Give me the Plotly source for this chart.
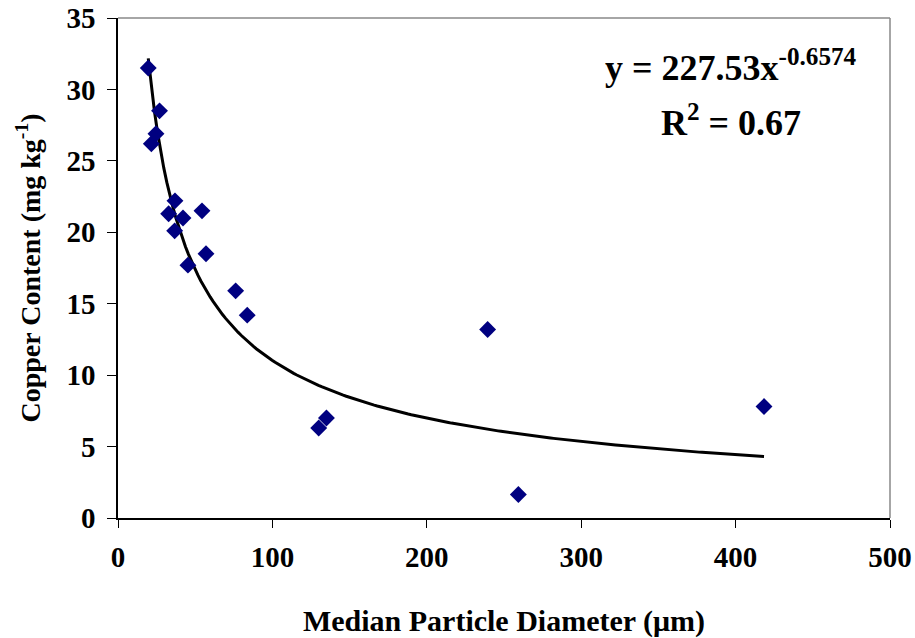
import numpy as np
import plotly.graph_objects as go

# Median particle diameter (µm) and copper content (mg/kg)
diameter = [19.6, 26.9, 24.6, 21.6, 36.9, 32.8, 54.4, 42.1, 36.7, 57.0, 45.3,
            76.2, 83.7, 130.0, 135.0, 239.4, 259.3, 418.4]
copper = [31.5, 28.5, 26.9, 26.2, 22.2, 21.3, 21.5, 21.0, 20.1, 18.5, 17.7,
          15.9, 14.2, 6.3, 7.0, 13.2, 1.65, 7.8]

# Power trendline shown on the chart: y = 227.53 x^-0.6574
coef_a = 227.53
coef_b = -0.6574

x_ticks = [0, 100, 200, 300, 400, 500]
y_ticks = [0, 5, 10, 15, 20, 25, 30, 35]

fit_x = np.linspace(min(diameter), max(diameter), 200)
fit_y = coef_a * fit_x ** coef_b

FONT = "Liberation Serif"

fig = go.Figure()
fig.add_trace(go.Scatter(x=fit_x, y=fit_y, mode="lines",
                         line=dict(color="black", width=3), hoverinfo="skip"))
fig.add_trace(go.Scatter(x=diameter, y=copper, mode="markers",
                         marker=dict(symbol="diamond", size=13, color="#000080",
                                     line=dict(width=0))))

fig.update_layout(
    width=915, height=638,
    margin=dict(l=118, r=25, t=18, b=120, autoexpand=False),
    paper_bgcolor="white", plot_bgcolor="white",
    showlegend=False,
    font=dict(family=FONT, color="black"),
    xaxis=dict(range=[0, 500], tickvals=x_ticks, ticks="outside", ticklen=8,
               tickcolor="black", showline=True, linecolor="black", linewidth=1.5,
               showgrid=False, zeroline=False, automargin=False, ticklabelstandoff=4,
               tickfont=dict(family=FONT, size=29, color="black", weight="bold"),
               title=dict(text="<b>Median Particle Diameter (μm)</b>",
                          font=dict(family=FONT, size=30, color="black"), standoff=40)),
    yaxis=dict(range=[0, 35], tickvals=y_ticks, ticks="outside", ticklen=9,
               tickcolor="black", showline=True, linecolor="black", linewidth=1.5,
               showgrid=False, zeroline=False, automargin=False, ticklabelstandoff=6,
               tickfont=dict(family=FONT, size=29, color="black", weight="bold"),
               title=dict(text="<b>Copper Content (mg kg<sup>-1</sup>)</b>",
                          font=dict(family=FONT, size=28, color="black"), standoff=18)),
)

# gray box on top/right
fig.add_shape(type="line", xref="paper", yref="paper", x0=0, x1=1, y0=1, y1=1,
              line=dict(color="#888888", width=1.5))
fig.add_shape(type="line", xref="paper", yref="paper", x0=1, x1=1, y0=0, y1=1,
              line=dict(color="#888888", width=1.5))

fig.add_annotation(x=(731 - 117.7) / 1.544, y=(518.3 - 66) / 14.29, xref="x", yref="y",
                   showarrow=False, text="<b>y = 227.53x<sup>-0.6574</sup></b>",
                   font=dict(family=FONT, size=36, color="black"))
fig.add_annotation(x=(731 - 117.7) / 1.544, y=(518.3 - 121) / 14.29, xref="x", yref="y",
                   showarrow=False, text="<b>R<sup>2</sup> = 0.67</b>",
                   font=dict(family=FONT, size=36, color="black"))

fig.write_html("out.html")
